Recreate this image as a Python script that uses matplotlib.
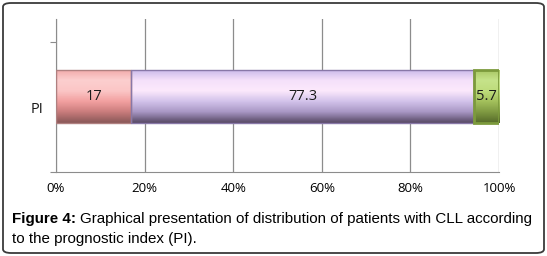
import numpy as np
import matplotlib
matplotlib.use('Agg')
import matplotlib.pyplot as plt
from matplotlib.colors import LinearSegmentedColormap
from matplotlib.patches import FancyBboxPatch

# ---- data
category = 'PI'
values = [17, 77.3, 5.7]
labels = ['17', '77.3', '5.7']
xticks = [0, 20, 40, 60, 80, 100]
xticklabels = ['0%', '20%', '40%', '60%', '80%', '100%']

# gradient stops (top -> bottom) for each segment
grads = [
    ['#f2a9a9', '#fccfcf', '#fbc6c6', '#f2a0a0', '#c97c7c', '#8a5858'],
    ['#c9b9ea', '#f4e0fa', '#fce9fc', '#d2c2ea', '#a897c4', '#584a66'],
    ['#a7c562', '#c6e38a', '#bedc7c', '#a3c05c', '#7f9a42', '#566b2a'],
]
edges = ['#b08080', '#8878a8', '#7c9a3c']

W, H = 547, 256
fig = plt.figure(figsize=(W / 100, H / 100), dpi=100)

# rounded frame round the figure
frame = FancyBboxPatch((3 / W, 3 / H), 1 - 6 / W, 1 - 6 / H,
                       boxstyle='round,pad=0,rounding_size=0.015',
                       transform=fig.transFigure, fill=False,
                       edgecolor='#3a3a3a', linewidth=1.3)
fig.patches.append(frame)

ax = fig.add_axes([56 / W, 1 - 172 / H, (499 - 56) / W, (172 - 19) / H])

bh = 0.5
left = 0
for v, lab, g, ec in zip(values, labels, grads, edges):
    bar = ax.barh(0, v, left=left, height=bh, color='none',
                  edgecolor=ec, linewidth=1.0 if ec != '#7c9a3c' else 2.0, zorder=3)[0]
    cmap = LinearSegmentedColormap.from_list('g', g)
    grad = np.linspace(0, 1, 64).reshape(-1, 1)
    im = ax.imshow(grad, cmap=cmap, aspect='auto', origin='upper',
                   extent=(left, left + v, -bh / 2, bh / 2), zorder=2,
                   interpolation='bilinear')
    im.set_clip_path(bar)
    ax.text(left + v / 2, 0, lab, ha='center', va='center',
            fontsize=10.5, family='Open Sans', color='#1a1a1a', zorder=4)
    left += v

ax.set_xlim(0, 100)
ax.set_ylim(-0.712, 0.731)
ax.set_xticks(xticks)
ax.set_xticklabels(xticklabels, family='Open Sans', fontsize=9.5)
ax.set_yticks([-0.712, 0.514])
ax.set_yticklabels(['', ''])
ax.text(-2.8, -0.12, category, ha='right', va='center', fontsize=10.5,
        family='Open Sans', color='#1a1a1a', transform=ax.transData)
ax.grid(axis='x', color='#8c8c8c', linewidth=0.9, zorder=0)
ax.set_axisbelow(True)
for s in ['top', 'right']:
    ax.spines[s].set_visible(False)
ax.spines['left'].set_color('#8c8c8c')
ax.spines['bottom'].set_color('#8c8c8c')
ax.tick_params(axis='y', length=4, color='#8c8c8c', direction='out')
ax.tick_params(axis='x', length=0, pad=7)

# caption
fs = 10.9
t1 = fig.text(12 / W, 1 - 219 / H, 'Figure 4:', fontweight='bold', family='Liberation Sans',
              fontsize=fs, va='center', ha='left')
r = fig.canvas.get_renderer()
bb = t1.get_window_extent(renderer=r)
fig.text((bb.x1 + 4) / W, 1 - 219 / H,
         'Graphical presentation of distribution of patients with CLL according',
         family='Liberation Sans', fontsize=fs, va='center', ha='left')
fig.text(12 / W, 1 - 239 / H, 'to the prognostic index (PI).',
         family='Liberation Sans', fontsize=fs, va='center', ha='left')

fig.savefig('out.png', dpi=100)
